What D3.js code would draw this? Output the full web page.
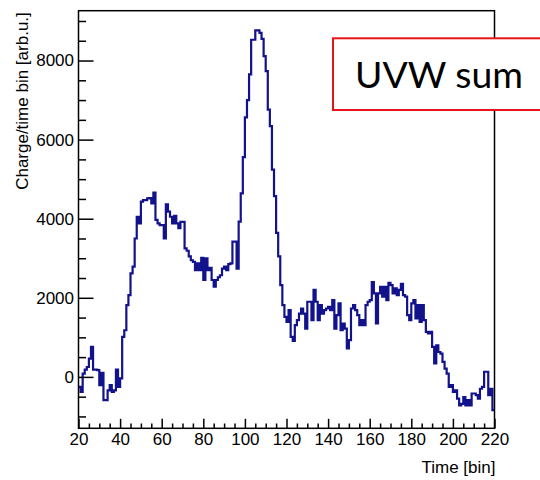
<!DOCTYPE html>
<html>
<head>
<meta charset="utf-8">
<script src="https://cdn.jsdelivr.net/npm/d3@7"></script>
<style>
  body { margin: 0; background: #fff; }
  svg { display: block; }
</style>
</head>
<body>
<div id="chart"></div>
<script>
// chart data (one value per time bin, bins 20..219)
const FIRST_BIN = 20;
const CHARGE = [
  -250, -380, 85, 185, 250, 460, 760, 185, 185, 170,
  -210, 100, -590, -590, -340, -210, -380, -340, 185, -250,
  -40, 1010, 1180, 1815, 2070, 2620, 2790, 3500, 4050, 3880,
  4430, 4470, 4470, 4515, 4520, 4390, 4660, 3970, 3880, 3840,
  3840, 3500, 4360, 4180, 4050, 3880, 4070, 3880, 3760, 3920,
  3920, 3250, 3190, 3050, 2950, 2910, 2700, 2870, 2700, 3010,
  2450, 3000, 2700, 2760, 2450, 2280, 2450, 2520, 2570, 2740,
  2790, 2700, 2850, 2870, 3420, 3420, 2740, 3925, 4640, 5555,
  6560, 7000, 7650, 8525, 8525, 8760, 8760, 8700, 8550, 8110,
  7730, 6760, 6340, 5240, 4570, 3640, 3050, 2320, 1815, 1520,
  1390, 1690, 1010, 910, 1310, 1435, 1600, 1730, 1600, 1220,
  1900, 1900, 1435, 2200, 1900, 1435, 1815, 1600, 1690, 1730,
  1770, 1690, 1940, 1220, 1560, 1860, 1180, 1350, 1220, 720,
  930, 1730, 1815, 1690, 1560, 1310, 1435, 1310, 1815, 1900,
  1940, 2400, 2110, 1350, 2110, 2280, 2030, 2280, 1940, 2380,
  2320, 2110, 2240, 2070, 2200, 2350, 2070, 2030, 1560, 1435,
  1860, 1940, 1480, 1815, 1390, 1815, 1435, 1140, 1100, 1140,
  760, 340, 800, 630, 590, 380, 210, 85, -250, -210,
  -380, -340, -550, -720, -680, -510, -720, -590, -720, -420,
  -420, -460, -550, -300, -250, 130, 130, -460, -300, -840
];

// axis ticks and labels
const X_TICKS = [20, 40, 60, 80, 100, 120, 140, 160, 180, 200, 220];
const Y_TICKS = [0, 2000, 4000, 6000, 8000];
const X_TITLE = 'Time [bin]';
const Y_TITLE = 'Charge/time bin [arb.u.]';
const LABEL_TEXT = 'UVW sum';

const FRAME_WIDTH = 540;
const FRAME_HEIGHT = 480;
const PLOT = {left: 78.5, right: 494.5, top: 10.7, bottom: 428.3};
const FONT = '"Liberation Sans", Arial, Helvetica, sans-serif';

const FRAME = d3.select('#chart')
    .append('svg')
        .attr('width', FRAME_WIDTH)
        .attr('height', FRAME_HEIGHT);

// scales
const X_SCALE = d3.scaleLinear()
    .domain([20, 220])
    .range([PLOT.left, PLOT.right]);

const Y_SCALE = d3.scaleLinear()
    .domain([-1300, 9260])
    .range([PLOT.bottom, PLOT.top]);

// histogram outline (step line, last bin closed at its right edge)
const points = CHARGE.map((v, i) => [FIRST_BIN + i, v]);
points.push([FIRST_BIN + CHARGE.length, CHARGE[CHARGE.length - 1]]);

const line = d3.line()
    .x(d => X_SCALE(d[0]))
    .y(d => Y_SCALE(d[1]))
    .curve(d3.curveStepAfter);

FRAME.append('path')
    .datum(points)
    .attr('d', line)
    .attr('fill', 'none')
    .attr('stroke', '#12128c')
    .attr('stroke-width', 2.2)
    .attr('stroke-linejoin', 'miter');

// frame
FRAME.append('rect')
    .attr('x', PLOT.left)
    .attr('y', PLOT.top)
    .attr('width', PLOT.right - PLOT.left)
    .attr('height', PLOT.bottom - PLOT.top)
    .attr('fill', 'none')
    .attr('stroke', '#000')
    .attr('stroke-width', 1.5);

// minor ticks, drawn inside the frame
const xMinor = d3.range(20, 221, 5).filter(v => !X_TICKS.includes(v));
const yMinor = d3.range(-1000, 9001, 500).filter(v => !Y_TICKS.includes(v));

FRAME.append('g')
    .attr('transform', 'translate(0,' + PLOT.bottom + ')')
    .call(d3.axisBottom(X_SCALE).tickValues(xMinor).tickSize(-4.8).tickSizeOuter(0).tickFormat(''))
    .call(g => g.select('.domain').remove())
    .selectAll('line').attr('stroke-width', 1.5);

FRAME.append('g')
    .attr('transform', 'translate(' + PLOT.left + ',0)')
    .call(d3.axisLeft(Y_SCALE).tickValues(yMinor).tickSize(-7.5).tickSizeOuter(0).tickFormat(''))
    .call(g => g.select('.domain').remove())
    .selectAll('line').attr('stroke-width', 1.5);

// major ticks with labels
const xAxis = FRAME.append('g')
    .attr('transform', 'translate(0,' + PLOT.bottom + ')')
    .call(d3.axisBottom(X_SCALE).tickValues(X_TICKS).tickSize(-9.5).tickSizeOuter(0).tickPadding(5)
        .tickFormat(d3.format('d')))
    .attr('font-size', '17px')
    .attr('font-family', FONT);
xAxis.select('.domain').remove();
xAxis.selectAll('line').attr('stroke-width', 1.5);
xAxis.selectAll('text').attr('fill', '#000');

const yAxis = FRAME.append('g')
    .attr('transform', 'translate(' + PLOT.left + ',0)')
    .call(d3.axisLeft(Y_SCALE).tickValues(Y_TICKS).tickSize(-15).tickSizeOuter(0).tickPadding(4.5)
        .tickFormat(d3.format('d')))
    .attr('font-size', '17px')
    .attr('font-family', FONT);
yAxis.select('.domain').remove();
yAxis.selectAll('line').attr('stroke-width', 1.5);
yAxis.selectAll('text').attr('fill', '#000');

// axis titles
FRAME.append('text')
    .attr('x', PLOT.right + 1)
    .attr('y', 473)
    .attr('text-anchor', 'end')
    .attr('font-family', FONT)
    .attr('font-size', '17px')
    .text(X_TITLE);

FRAME.append('text')
    .attr('transform', 'translate(28,' + (PLOT.top + 1.5) + ') rotate(-90)')
    .attr('text-anchor', 'end')
    .attr('font-family', FONT)
    .attr('font-size', '17px')
    .text(Y_TITLE);

// "UVW sum" label box, runs off the right edge
FRAME.append('rect')
    .attr('x', 333)
    .attr('y', 38.3)
    .attr('width', 230)
    .attr('height', 71.7)
    .attr('fill', '#fff')
    .attr('stroke', '#e8141b')
    .attr('stroke-width', 2);

const label = FRAME.append('text')
    .attr('x', 355)
    .attr('y', 88.3)
    .attr('font-family', 'Lato, "Open Sans", sans-serif')
    .attr('font-size', '38px')
    .attr('fill', '#000')
    .text(LABEL_TEXT);

// fit label to the width it has in the picture
const w = label.node().getComputedTextLength();
label.attr('font-size', (38 * 168 / w).toFixed(1) + 'px');
</script>
</body>
</html>
